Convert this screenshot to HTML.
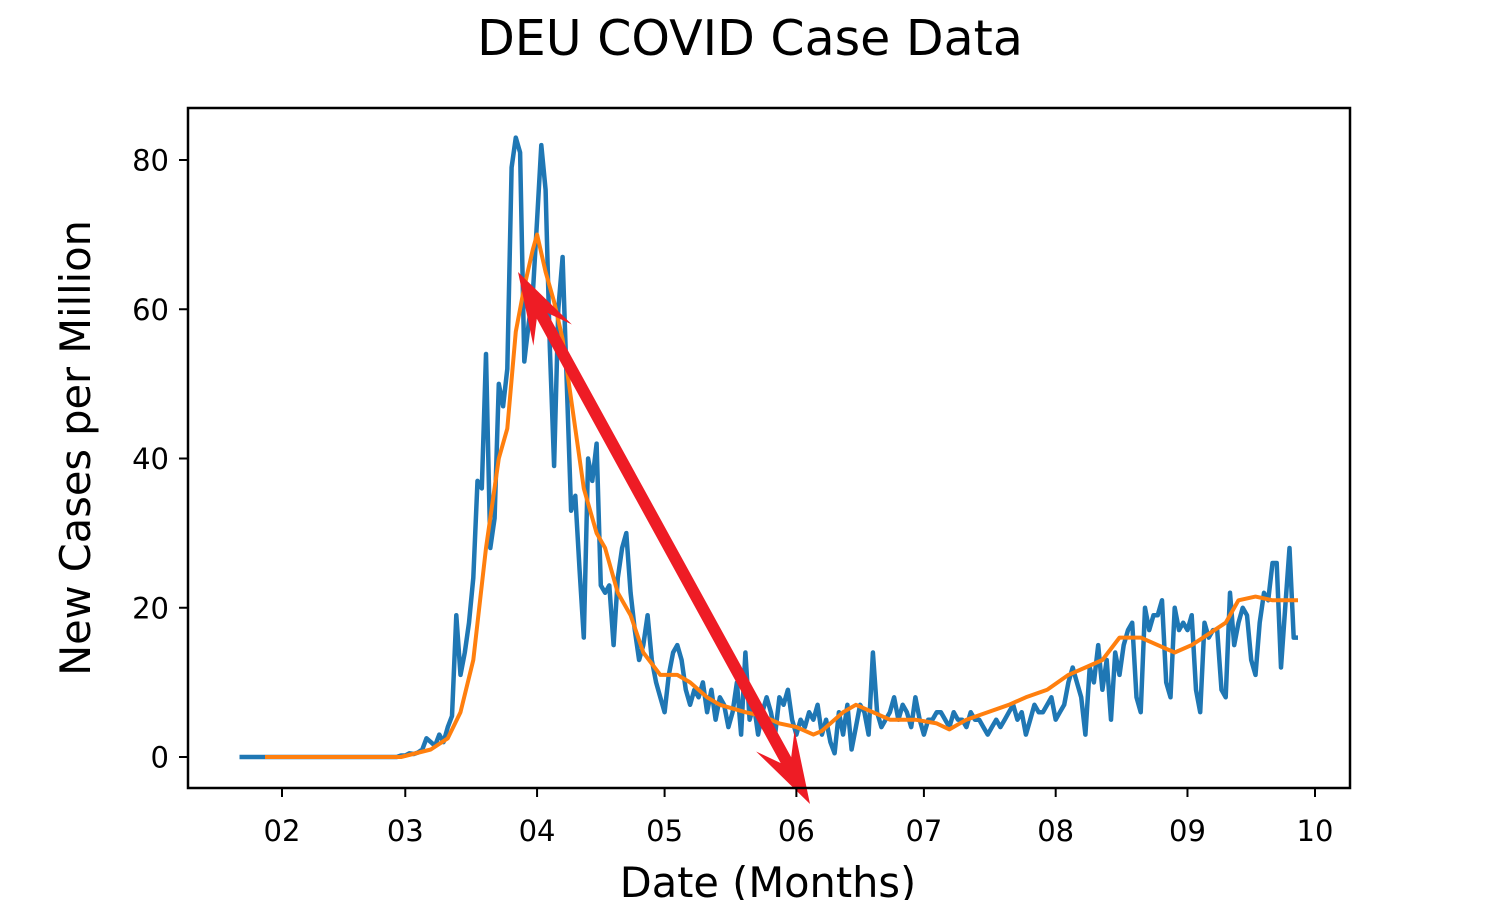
<!DOCTYPE html>
<html><head><meta charset="utf-8"><style>
html,body{margin:0;padding:0;background:#fff;}
svg text{font-family:"DejaVu Sans","Liberation Sans",sans-serif;fill:#000;}
</style></head><body>
<svg id="chart" width="1500" height="900">
<text x="750" y="55" text-anchor="middle" font-size="49">DEU COVID Case Data</text>
<g id="plot"></g>
<text x="768" y="897" text-anchor="middle" font-size="41.5">Date (Months)</text>
<text transform="translate(90,448) rotate(-90)" text-anchor="middle" font-size="41.5">New Cases per Million</text>
</svg>
<script>
const startDay = 21;
const dailyCases = [
0,0,0,0,0,0,0,0,0,0,0,0,0,0,0,0,0,0,0,0,0,0,0,0,0,0,0,0,0,0,0,0,0,0,0,0,0,0,0.2,
0.2,0.5,0.4,0.6,1,2.5,2,1.5,3,2,4,5.5,19,11,14,18,24,37,36,54,28,32,50,47,52,79,83,81,53,58,62,
72,82,76,55,39,60,67,50,33,35,25,16,40,37,42,23,22,23,15,24,28,30,22,17,13,15,19,13,10,8,
6,11,14,15,13,9,7,9,8,10,6,9,5,8,7,4,6,10,3,14,5,7,3,6,8,6,3,8,7,9,5,
3,5,4,6,5,7,3,5,2,0.5,6,3,7,1,4,7,6,3,14,6,4,5,6,8,5,7,6,4,8,5,
3,5,5,6,6,5,4,6,5,5,4,6,5,5,4,3,4,5,4,5,6,7,5,6,3,5,7,6,6,7,8,
5,6,7,10,12,10,8,3,12,10,15,9,13,5,14,11,15,17,18,8,6,20,17,19,19,21,10,8,20,17,18,
17,19,9,6,18,16,17,17,9,8,22,15,18,20,19,13,11,18,22,21,26,26,12,20,28,16,16
];
const avgDays = [27,59,66,70,73,76,79,82,84,86,88,90,91,93,95,97,100,102,105,107,110,113,116,120,124,127,131,134,140,144,148,152,156,158,163,166,170,174,180,185,188,192,197,202,206,211,216,220,224,228,233,237,241,245,249,253,256,260,264,268,270];
const avgValues = [0,0,1,2.5,6,13,28,40,44,57,63,68,70,65,61,56,44,36,30,28,22,19,14,11,11,10,8,7,6,5.5,4.5,4,3,3.5,6,7,6,5,5,4.5,3.7,5,6,7,8,9,11,12,13,16,16,15,14,15,16.5,18,21,21.5,21,21,21];
const xTickDays = [31,60,91,121,152,182,213,244,274];
const xTickLabels = ["02","03","04","05","06","07","08","09","10"];
const yTicks = [0,20,40,60,80];

const NS="http://www.w3.org/2000/svg";
const L=188,R=1350,T=108,B=788;
const xs=d=>282+(d-31)*(1315-282)/(274-31);
const ys=v=>757-v*(757-160)/80;
const g=document.getElementById('plot');
function mk(t,a){const e=document.createElementNS(NS,t);for(const k in a)e.setAttribute(k,a[k]);g.appendChild(e);return e;}

let p=dailyCases.map((v,i)=>(i?'L':'M')+xs(startDay+i).toFixed(1)+','+ys(v).toFixed(1)).join('');
const blue=mk('path',{d:p,fill:'none',stroke:'#1f77b4','stroke-width':4.5,'stroke-linejoin':'round'});


p=avgValues.map((v,i)=>(i?'L':'M')+xs(avgDays[i]).toFixed(1)+','+ys(v).toFixed(1)).join('');
const orange=mk('path',{d:p,fill:'none',stroke:'#ff7f0e','stroke-width':4,'stroke-linejoin':'round'});



const ax1=518,ay1=272,ax2=810,ay2=804;
const dx=ax2-ax1,dy=ay2-ay1,len=Math.hypot(dx,dy),ux=dx/len,uy=dy/len,nx=-uy,ny=ux;
const hw=6,hl=72,hh=22,hb=50;
function pt(s,o){return (ax1+ux*s+nx*o).toFixed(1)+','+(ay1+uy*s+ny*o).toFixed(1);}
const arrowPts=[pt(0,0),pt(hl,hh),pt(hb,hw),pt(len-hb,hw),pt(len-hl,hh),pt(len,0),pt(len-hl,-hh),pt(len-hb,-hw),pt(hb,-hw),pt(hl,-hh)].join(' ');
const arrow=mk('polygon',{points:arrowPts,fill:'#ee1c25'});



const frame=mk('rect',{x:L,y:T,width:R-L,height:B-T,fill:'none',stroke:'#000','stroke-width':2.5});



xTickDays.forEach((d,i)=>{
  const x=xs(d);
  const tk=mk('line',{x1:x,x2:x,y1:B,y2:B+9,stroke:'#000','stroke-width':2});
  
  
  const t=mk('text',{x:x,y:B+53,'text-anchor':'middle','font-size':29});
  t.textContent=xTickLabels[i];
  
  
});
yTicks.forEach(v=>{
  const y=ys(v);
  const tk=mk('line',{x1:L-9,x2:L,y1:y,y2:y,stroke:'#000','stroke-width':2});
  
  
  const t=mk('text',{x:L-19,y:y+10.5,'text-anchor':'end','font-size':29});
  t.textContent=v;
  
  
});
</script>
</body></html>
